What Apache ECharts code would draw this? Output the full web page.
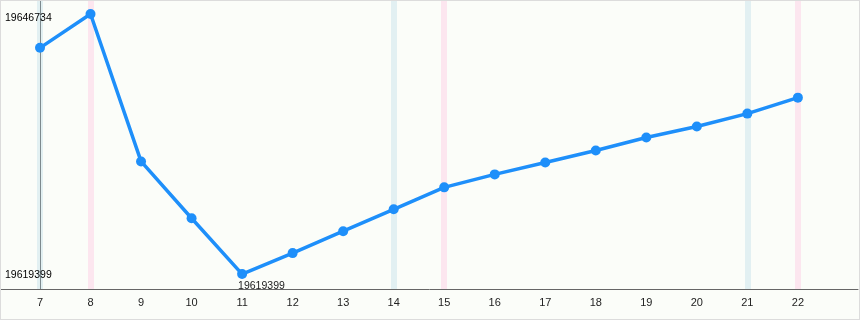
<!DOCTYPE html>
<html><head><meta charset="utf-8">
<script src="https://cdn.jsdelivr.net/npm/echarts@6/dist/echarts.min.js"></script>
<style>html,body{margin:0;padding:0;background:#fff}#c{width:858px;height:318px;border:1px solid #dcdcdc;background:#fbfdf9}</style>
</head><body><div id="c"></div>
<script>
const days = [7,8,9,10,11,12,13,14,15,16,17,18,19,20,21,22];
const values = [19643173,19646734,19631234,19625264,19619399,19621599,19623903,19626207,19628511,19629872,19631129,19632386,19633747,19634900,19636261,19637937];
const blueDays = [7,14,21];
const pinkDays = [8,15,22];
const axisDay = 7;

const chart = echarts.init(document.getElementById('c'), null, {renderer:'canvas'});
const minV = Math.min(...values);
const maxV = Math.max(...values);
const bands = [];
blueDays.forEach(d=>bands.push({xAxis:d, lineStyle:{color:'#e2f0f2', width:6, type:'solid'}}));
pinkDays.forEach(d=>bands.push({xAxis:d, lineStyle:{color:'#fce6ef', width:6, type:'solid'}}));
bands.push({xAxis:axisDay, lineStyle:{color:'#7d8a8e', width:1, type:'solid'}});
const font = {color:'#000', fontSize:10.5, fontFamily:'Liberation Sans, Arial'};

chart.setOption({
  animation:false,
  grid:{left:0,right:1,top:0,bottom:30},
  xAxis:{type:'value', min:6.228, max:23.19,
    axisLine:{lineStyle:{color:'#666'}},
    axisTick:{show:false},
    splitLine:{show:false},
    axisLabel:{customValues:days, color:'#222', fontSize:11, fontFamily:'Liberation Sans, Arial', margin:8}},
  yAxis:{type:'value', min:19617828, max:19648095, show:false},
  series:[
    {type:'line', data:[], silent:true, z:0,
      markLine:{silent:true, z:0, symbol:'none', label:{show:false}, data:bands}},
    {type:'line', z:3,
      data: days.map((d,i)=>({value:[d,values[i]], label: values[i]===minV ? Object.assign({show:true, position:'bottom', align:'left', distance:2, offset:[-4,0], formatter:String(values[i])}, font, {color:'#222'}) : {show:false}})),
      lineStyle:{color:'#1e8ffa', width:3.5},
      itemStyle:{color:'#1e8ffa'},
      symbol:'circle', symbolSize:10,
      markLine:{silent:true, z:1, symbol:'none', lineStyle:{color:'rgba(0,0,0,0)', width:0},
        label:Object.assign({position:'insideStart', distance:4}, font),
        data:[{yAxis:maxV, label:{formatter:String(maxV), offset:[0,4]}},{yAxis:minV, label:{formatter:String(minV), offset:[0,1]}}]}
    }
  ]
});
</script></body></html>
